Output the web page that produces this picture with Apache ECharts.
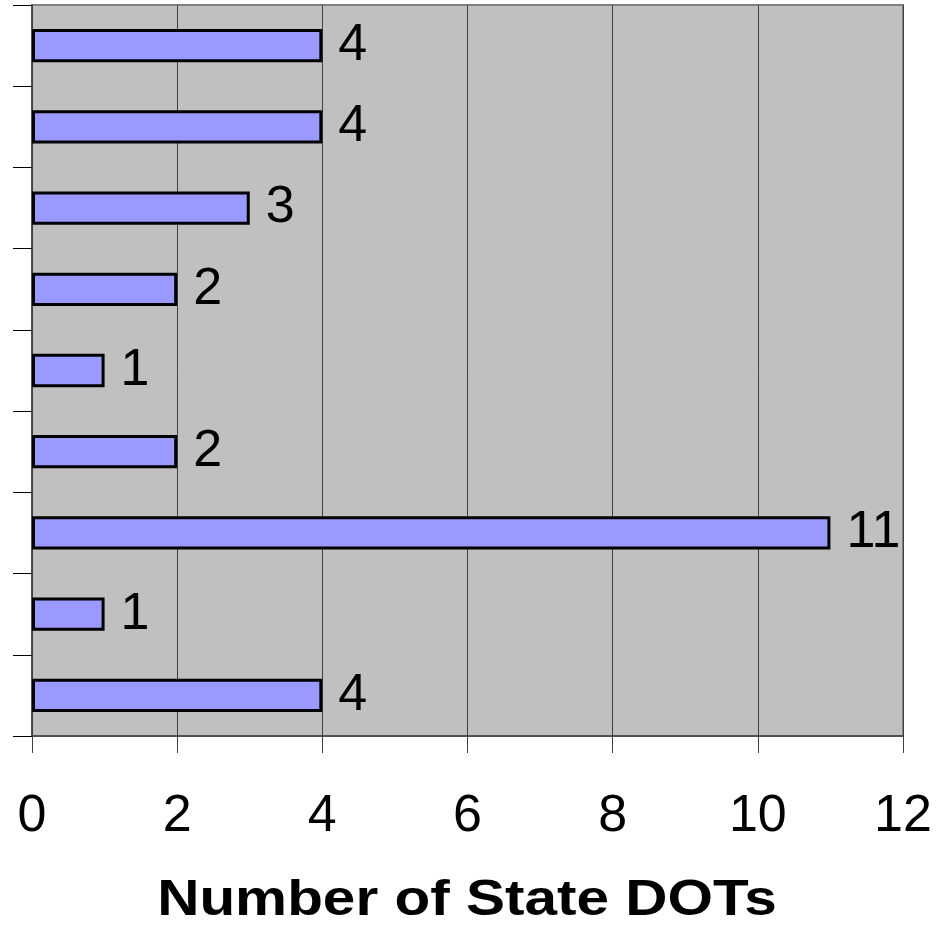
<!DOCTYPE html>
<html>
<head>
<meta charset="utf-8">
<script src="https://cdn.jsdelivr.net/npm/echarts@6/dist/echarts.min.js"></script>
<style>html,body{margin:0;padding:0;background:#fff;}#c{width:945px;height:925px;}</style>
</head>
<body>
<div id="c"></div>
<script>
// Categories listed top to bottom (labels not shown in the reference)
const categories = ['c1','c2','c3','c4','c5','c6','c7','c8','c9'];
const values = [4, 4, 3, 2, 1, 2, 11, 1, 4];
const xTicks = [0, 2, 4, 6, 8, 10, 12];
const axisTitle = 'Number of State DOTs';

const chart = echarts.init(document.getElementById('c'), null, {renderer: 'canvas'});
chart.setOption({
  animation: false,
  grid: {
    left: 32, right: 42, top: 5, bottom: 189,
    show: true, backgroundColor: '#C0C0C0', borderColor: '#808080', borderWidth: 2
  },
  graphic: [{
    type: 'text', x: 467, y: 901, scaleX: 1.17, scaleY: 1,
    style: {
      text: axisTitle, textAlign: 'center', textVerticalAlign: 'middle',
      font: 'bold 50px "Liberation Sans", Arial, sans-serif', fill: '#000'
    }
  }],
  xAxis: {
    type: 'value', min: xTicks[0], max: xTicks[xTicks.length - 1], interval: 2,
    axisLine: {show: true, lineStyle: {color: '#404040', width: 1.5}},
    axisTick: {show: true, length: 17, lineStyle: {color: '#404040', width: 1}},
    splitLine: {show: true, lineStyle: {color: '#404040', width: 1}},
    axisLabel: {fontFamily: 'Liberation Sans, Arial, sans-serif', fontSize: 52, color: '#000', margin: 55}
  },
  yAxis: {
    type: 'category', data: categories, inverse: true,
    axisLine: {show: true, lineStyle: {color: '#404040', width: 1.5}},
    axisTick: {show: true, length: 19, lineStyle: {color: '#000', width: 1}},
    axisLabel: {show: false},
    splitLine: {show: false}
  },
  series: [{
    type: 'bar', data: values, barWidth: '41%',
    itemStyle: {color: '#9999FF', borderColor: '#000', borderWidth: 3},
    label: {show: true, position: 'right', distance: 16, fontFamily: 'Liberation Sans, Arial, sans-serif', fontSize: 52, color: '#000'}
  }]
});
</script>
</body>
</html>
